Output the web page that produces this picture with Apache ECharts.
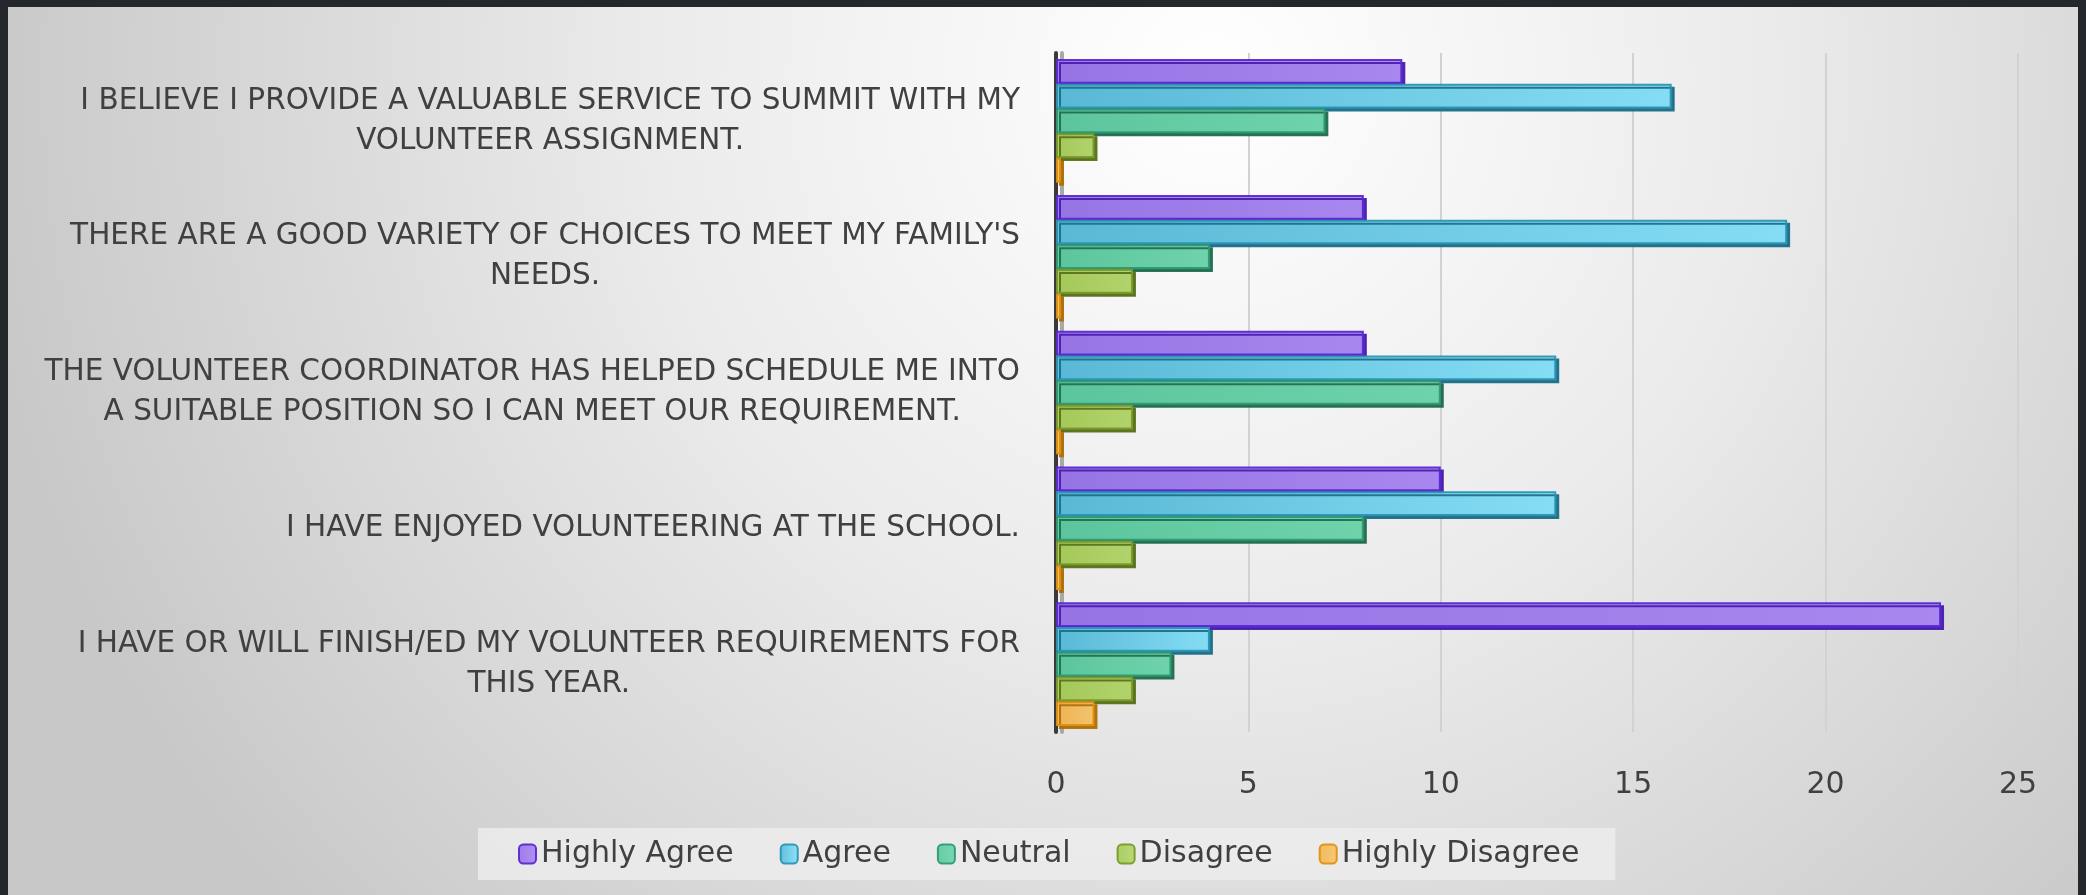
<!DOCTYPE html>
<html>
<head>
<meta charset="utf-8">
<script src="https://cdn.jsdelivr.net/npm/echarts@6/dist/echarts.min.js"></script>
<style>
  html, body { margin: 0; padding: 0; background: #24272b; }
  #chart { width: 2086px; height: 895px; }
</style>
</head>
<body>
<div id="chart"></div>
<script>
const categories = [
  'I BELIEVE I PROVIDE A VALUABLE SERVICE TO SUMMIT WITH MY\nVOLUNTEER ASSIGNMENT.',
  "THERE ARE A GOOD VARIETY OF CHOICES TO MEET MY FAMILY'S\nNEEDS.",
  'THE VOLUNTEER COORDINATOR HAS HELPED SCHEDULE ME INTO\nA SUITABLE POSITION SO I CAN MEET OUR REQUIREMENT.',
  'I HAVE ENJOYED VOLUNTEERING AT THE SCHOOL.',
  'I HAVE OR WILL FINISH/ED MY VOLUNTEER REQUIREMENTS FOR\nTHIS YEAR.'
]
const highlyAgree = [9, 8, 8, 10, 23]
const agree = [16, 19, 13, 13, 4]
const neutral = [7, 4, 10, 8, 3]
const disagree = [1, 2, 2, 2, 2]
const highlyDisagree = [0, 0, 0, 0, 1]
const xTicks = [0, 5, 10, 15, 20, 25]

const font = 'DejaVu Sans'
const textColor = '#404040'

const seriesDefs = [
  { name: 'Highly Agree', data: highlyAgree, from: '#9a78e6', to: '#ad8cf2', border: '#5a28d4', side: '#4a1fb0' },
  { name: 'Agree', data: agree, from: '#5bbcd9', to: '#8ae2fa', border: '#2a95b5', side: '#1f6f88' },
  { name: 'Neutral', data: neutral, from: '#5fc9a0', to: '#72d8b0', border: '#2f9a72', side: '#226e52' },
  { name: 'Disagree', data: disagree, from: '#a8cc5c', to: '#b6d870', border: '#7a9a2a', side: '#5a721c' },
  { name: 'Highly Disagree', data: highlyDisagree, from: '#f0b655', to: '#f6c874', border: '#e0900e', side: '#b0700a' }
]

const chart = echarts.init(document.getElementById('chart'))

chart.setOption({
  backgroundColor: '#24272b',
  graphic: [{
    type: 'rect',
    z: -10,
    shape: { x: 8, y: 7, width: 2070, height: 888 },
    style: {
      fill: {
        type: 'radial', x: 0.58, y: 0.08, r: 1.4,
        colorStops: [
          { offset: 0, color: '#ffffff' },
          { offset: 0.45, color: '#ebebeb' },
          { offset: 1, color: '#c8c8c8' }
        ]
      }
    }
  }],
  grid: { left: 1056, right: 68, top: 53, bottom: 163 },
  legend: {
    left: 478,
    top: 828,
    padding: [11, 36, 11, 40],
    backgroundColor: 'rgba(236,236,236,0.85)',
    itemWidth: 17,
    itemHeight: 19,
    itemGap: 46,
    textStyle: { fontFamily: font, fontSize: 30, color: textColor },
    data: seriesDefs.map((s) => s.name)
  },
  xAxis: {
    type: 'value',
    min: xTicks[0],
    max: xTicks[xTicks.length - 1],
    interval: 5,
    axisLine: { show: false },
    axisTick: { show: false },
    axisLabel: { fontFamily: font, fontSize: 30, color: textColor, margin: 38 },
    splitLine: { showMinLine: false, lineStyle: { color: '#d2d2d2', width: 2 } }
  },
  yAxis: {
    type: 'category',
    inverse: true,
    data: categories,
    offset: 6,
    axisTick: { show: false },
    axisLine: {
      show: true,
      lineStyle: { color: '#3a3a3a', width: 4, shadowColor: '#a8a8a8', shadowOffsetX: 6 }
    },
    axisLabel: {
      margin: 30,
      align: 'right',
      formatter: (v) => v.split('\n').map((l) => '{c|' + l + '}').join('\n'),
      rich: {
        c: { align: 'center', fontFamily: font, fontSize: 29.5, color: textColor, lineHeight: 40 }
      }
    }
  },
  series: seriesDefs.map((s) => ({
    name: s.name,
    type: 'bar',
    barGap: '0%',
    barCategoryGap: '9%',
    barMinHeight: s.name === 'Highly Disagree' ? 5 : 0,
    data: s.data,
    itemStyle: {
      color: {
        type: 'linear', x: 0, y: 0, x2: 1, y2: 0,
        colorStops: [{ offset: 0, color: s.from }, { offset: 1, color: s.to }]
      },
      borderColor: s.border,
      borderWidth: 2,
      shadowColor: s.side,
      shadowOffsetX: 3,
      shadowOffsetY: 3,
      shadowBlur: 0,
      opacity: 0.95
    }
  }))
})
</script>
</body>
</html>
